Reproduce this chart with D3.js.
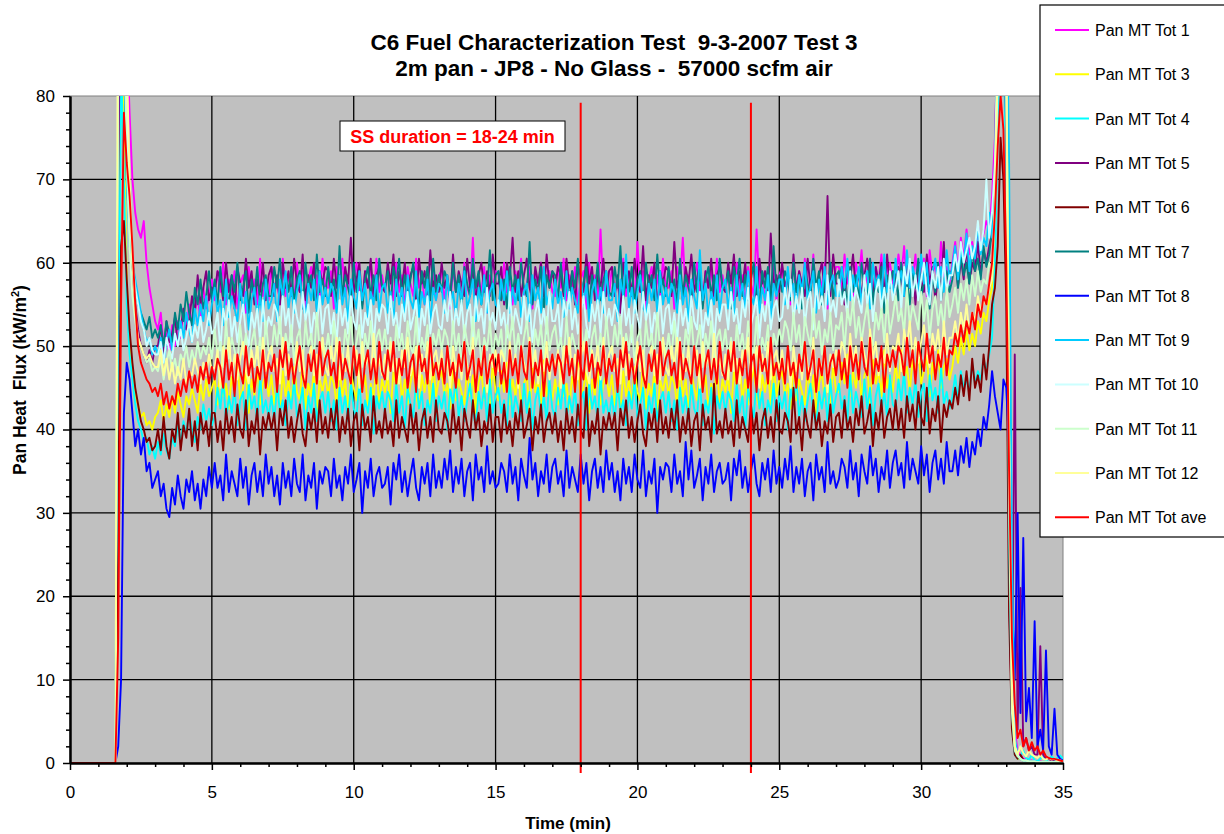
<!DOCTYPE html>
<html><head><meta charset="utf-8">
<script src="https://cdn.jsdelivr.net/npm/d3@7"></script>
<style>
body{margin:0;background:#fff;}
text{font-family:"Liberation Sans",Arial,Helvetica,sans-serif;}
</style>
</head><body>
<svg id="chart" width="1224" height="834"></svg>
<script>
// ---------------- DATA ----------------
const seriesNames = ["Pan MT Tot 1","Pan MT Tot 3","Pan MT Tot 4","Pan MT Tot 5","Pan MT Tot 6","Pan MT Tot 7",
                     "Pan MT Tot 8","Pan MT Tot 9","Pan MT Tot 10","Pan MT Tot 11","Pan MT Tot 12","Pan MT Tot ave"];
const seriesColors = ["#FF00FF","#FFFF00","#00FFFF","#800080","#800000","#008080",
                      "#0000FF","#00CCFF","#CCFFFF","#CCFFCC","#FFFF99","#FF0000"];
// samples: value at t=0 is 0, then one value every sampleStep minutes from sampleStart (1.6 ... 35.0 min)
const sampleStart = 1.6, sampleStep = 0.1;

const panTot1 = [
0, 60, 95, 100, 88,  78, 70, 66, 64, 63,  65, 60, 57, 55, 53,
52, 54, 50, 51.5, 49,  52.5, 50, 53, 51, 54.5,  52, 55, 52.5, 54, 56,  53, 57, 54.5, 56, 58,
55.5, 59, 56.5, 60, 55,  58, 56, 59, 54.5, 57.5,  58.5, 54, 59.5, 56.5, 58,  55, 60.5, 56, 57.5, 55.5,
59.5, 56.5, 58, 55, 60.5,  56, 58.5, 57, 55.5, 60,  56.5, 59, 54.5, 58, 59.5,  56, 58.5, 55.5, 60.5, 57,
57, 59, 54.5, 59.5, 57.5,  60.5, 56, 58.5, 55.5, 58,  60, 56.5, 55, 59, 57,  59.5, 55.5, 60.5, 56.5, 58.5,
56.5, 59, 58, 55.5, 60,  56.5, 58.5, 54.5, 59.5, 57.5,  56, 60.5, 57, 59, 55,  58, 56.5, 60, 55.5, 58.5,
59, 55.5, 58, 54.5, 59.5,  56.5, 58.5, 55.5, 60, 57,  56, 63, 55, 58, 56.5,  59.5, 54, 58.5, 57, 59,
58.5, 55.5, 60, 56.5, 58,  55, 59, 57, 60.5, 56,  57.5, 59.5, 54.5, 58.5, 56.5,  60, 55.5, 58, 59, 56.5,
56, 59.5, 57, 60.5, 55.5,  58.5, 56.5, 59.5, 55, 58,  59, 54.5, 60, 57, 58.5,  55.5, 64, 56.5, 58, 56,
59.5, 56.5, 58, 55, 60.5,  56, 58.5, 57, 55.5, 62.5,  56.5, 59, 54.5, 58, 59.5,  56, 58.5, 55.5, 60.5, 57,
57, 59, 54.5, 59.5, 57.5,  63, 56, 58.5, 55.5, 58,  60, 56.5, 55, 59, 57,  59.5, 55.5, 60.5, 56.5, 58.5,
56.5, 59, 58, 55.5, 60,  56.5, 58.5, 54.5, 59.5, 57.5,  56, 64, 57, 59, 55,  58, 56.5, 60, 55.5, 58.5,
59.5, 56, 58.5, 55, 60,  57, 59, 56, 60.5, 57.5,  56.5, 61, 55.5, 58.5, 57,  60, 54.5, 59, 57.5, 59.5,
59.5, 56.5, 61, 57.5, 59,  56, 60, 58, 61.5, 57,  58.5, 60.5, 55.5, 59.5, 57.5,  61, 56.5, 59, 60, 57.5,
57.5, 61, 58.5, 62, 57,  60, 58, 61, 56.5, 59.5,  60.5, 56, 61.5, 58.5, 60,  57, 62.5, 58, 59.5, 57.5,
60, 62.5, 59, 63, 60.5,  64, 61, 62.5, 60, 64.5,  62, 63.5, 65, 64, 68,  75, 88, 100, 95, 85,
35, 12, 4, 1.5, 1,  0.5, 0.5, 0.3, 0.3, 0.2,  0.2, 0.2, 0.1, 0.1, 0.1,  0.1, 0.1, 0.1, 0.1, 0.1];

const panTot3 = [
0, 45, 90, 75, 58,  50, 47, 44, 43, 41.5,  42, 40.5, 41, 40, 41.5,
42, 43.5, 41, 43, 41.5,  44, 42, 44.5, 43, 41.5,  44, 43, 45, 43.5, 42,  45.5, 43.5, 46, 44, 45,
46, 43, 47.5, 44, 45.5,  42.5, 46.5, 44.5, 48, 43.5,  45, 47, 42, 46, 44,  47.5, 43, 45.5, 46.5, 44,
46.5, 43, 45.5, 42, 47,  44, 46, 43, 47.5, 44.5,  43.5, 48, 42.5, 45.5, 44,  47, 41.5, 46, 44.5, 46.5,
44, 46.5, 45.5, 43, 47.5,  44, 46, 42, 47, 45,  43.5, 48, 44.5, 46.5, 42.5,  45.5, 44, 47.5, 43, 46,
44.5, 46.5, 42, 47, 45,  48, 43.5, 46, 43, 45.5,  47.5, 44, 42.5, 46.5, 44.5,  47, 43, 48, 44, 46,
47, 44, 45.5, 42.5, 48,  43.5, 46, 44.5, 43, 47.5,  44, 46.5, 42, 45.5, 47,  43.5, 46, 43, 48, 44.5,
43.5, 47, 44.5, 48, 43,  46, 44, 47, 42.5, 45.5,  46.5, 42, 47.5, 44.5, 46,  43, 48.5, 44, 45.5, 43.5,
46, 43, 47.5, 44, 45.5,  42.5, 46.5, 44.5, 48, 43.5,  45, 47, 42, 46, 44,  47.5, 43, 45.5, 46.5, 44,
46.5, 43, 45.5, 42, 47,  44, 46, 43, 47.5, 44.5,  43.5, 48, 42.5, 45.5, 44,  47, 41.5, 46, 44.5, 46.5,
44, 46.5, 45.5, 43, 47.5,  44, 46, 42, 47, 45,  43.5, 48, 44.5, 46.5, 42.5,  45.5, 44, 47.5, 43, 46,
44.5, 46.5, 42, 47, 45,  48, 43.5, 46, 43, 45.5,  47.5, 44, 42.5, 46.5, 44.5,  47, 43, 48, 44, 46,
47, 44, 45.5, 42.5, 48,  43.5, 46, 44.5, 43, 47.5,  44, 46.5, 42, 45.5, 47,  43.5, 46, 43, 48, 44.5,
44.5, 48, 45.5, 49, 44,  47, 45, 48, 43.5, 46.5,  47.5, 43, 48.5, 45.5, 47,  44, 49.5, 45, 46.5, 44.5,
48, 45, 49.5, 46, 47.5,  44.5, 48.5, 46.5, 50, 45.5,  47, 49, 44, 48, 46,  49.5, 45, 47.5, 48.5, 46,
47.5, 50, 48, 51, 49,  52, 49.5, 51.5, 50, 53,  51.5, 54, 53, 55.5, 57,  65, 80, 92, 90, 85,
62, 18, 3, 0.5, 0.5,  0.3, 0.3, 0.2, 0.2, 0.2,  0.1, 0.1, 0.1, 0.1, 0.1,  0.1, 0.1, 0.1, 0.1, 0.1];

const panTot4 = [
0, 40, 85, 70, 55,  49, 46, 43, 41, 40,  38.5, 39, 37, 38, 36.5,
38.5, 37, 39.5, 37.5, 36.5,  39, 38, 40.5, 38.5, 41,  39.5, 42, 40, 38.5, 41.5,  40, 43, 41, 42.5, 40.5,
41.5, 45, 42.5, 46, 41,  44, 42, 45, 40.5, 43.5,  44.5, 40, 45.5, 42.5, 44,  41, 46.5, 42, 43.5, 41.5,
44, 41, 45.5, 42, 43.5,  40.5, 44.5, 42.5, 46, 41.5,  43, 45, 40, 44, 42,  45.5, 41, 43.5, 44.5, 42,
44.5, 41, 43.5, 40, 45,  42, 44, 41, 45.5, 42.5,  41.5, 46, 40.5, 43.5, 42,  45, 39.5, 44, 42.5, 44.5,
42, 44.5, 43.5, 41, 45.5,  42, 44, 40, 45, 43,  41.5, 46, 42.5, 44.5, 40.5,  43.5, 42, 45.5, 41, 44,
42.5, 44.5, 40, 45, 43,  46, 41.5, 44, 41, 43.5,  45.5, 42, 40.5, 44.5, 42.5,  45, 41, 46, 42, 44,
45, 42, 43.5, 40.5, 46,  41.5, 44, 42.5, 41, 45.5,  42, 44.5, 40, 43.5, 45,  41.5, 44, 41, 46, 42.5,
41.5, 45, 42.5, 46, 41,  44, 42, 45, 40.5, 43.5,  44.5, 40, 45.5, 42.5, 44,  41, 46.5, 42, 43.5, 41.5,
44, 41, 45.5, 42, 43.5,  40.5, 44.5, 42.5, 46, 41.5,  43, 45, 40, 44, 42,  45.5, 41, 43.5, 44.5, 42,
44.5, 41, 43.5, 40, 45,  42, 44, 41, 45.5, 42.5,  41.5, 46, 40.5, 43.5, 42,  45, 39.5, 44, 42.5, 44.5,
42, 44.5, 43.5, 41, 45.5,  42, 44, 40, 45, 43,  41.5, 46, 42.5, 44.5, 40.5,  43.5, 42, 45.5, 41, 44,
42.5, 44.5, 40, 45, 43,  46, 41.5, 44, 41, 43.5,  45.5, 42, 40.5, 44.5, 42.5,  45, 41, 46, 42, 44,
45.5, 42.5, 44, 41, 46.5,  42, 44.5, 43, 41.5, 46,  42.5, 45, 40.5, 44, 45.5,  42, 44.5, 41.5, 46.5, 43,
42.5, 46, 43.5, 47, 42,  45, 43, 46, 41.5, 44.5,  45.5, 41, 46.5, 43.5, 45,  42, 47.5, 43, 44.5, 42.5,
44, 46.5, 43.5, 47, 45,  46, 44.5, 48, 45.5, 47,  46, 48.5, 47, 49, 51,  60, 75, 85, 88, 70,
25, 5, 1, 0.5, 0.8,  1.5, 0.6, 0.4, 1, 0.3,  0.2, 0.5, 0.8, 0.3, 0.5,  0.8, 0.4, 0.6, 0.9, 0.5];

const panTot5 = [
0, 70, 100, 90, 72,  63, 58, 55, 52, 50,  49, 48, 49.5, 48, 50,
50, 52.5, 49, 53, 50.5,  51.5, 53.5, 50, 52, 54.5,  52, 53, 56, 54, 58.5,  55, 57, 59, 55.5, 57,
56.5, 59, 58, 55.5, 60,  56.5, 58.5, 54.5, 59.5, 57.5,  56, 60.5, 57, 59, 55,  58, 56.5, 60, 55.5, 58.5,
59.5, 56, 58.5, 55, 60,  57, 59, 56, 60.5, 57.5,  56.5, 61, 55.5, 58.5, 57,  60, 54.5, 59, 57.5, 59.5,
59, 56, 60.5, 57, 58.5,  55.5, 59.5, 57.5, 63, 56.5,  58, 60, 55, 59, 57,  60.5, 56, 58.5, 59.5, 57,
56.5, 60, 57.5, 61, 56,  59, 57, 60, 55.5, 58.5,  59.5, 55, 60.5, 57.5, 59,  56, 61.5, 57, 58.5, 56.5,
60, 57, 58.5, 55.5, 61,  56.5, 59, 57.5, 56, 60.5,  57, 59.5, 55, 58.5, 60,  56.5, 59, 56, 61, 57.5,
57.5, 59.5, 55, 60, 58,  63, 56.5, 59, 56, 58.5,  60.5, 57, 55.5, 59.5, 57.5,  60, 56, 61, 57, 59,
57, 59.5, 58.5, 56, 60.5,  57, 59, 55, 60, 58,  56.5, 61, 57.5, 59.5, 55.5,  58.5, 57, 60.5, 56, 59,
59.5, 56, 58.5, 54, 60,  57, 59, 56, 60.5, 57.5,  56.5, 62, 55.5, 58.5, 57,  60, 54.5, 59, 57.5, 59.5,
59, 56, 62.5, 57, 58.5,  55.5, 59.5, 57.5, 61, 56.5,  58, 60, 55, 59, 57,  60.5, 56, 58.5, 59.5, 57,
56.5, 60, 57.5, 61, 56,  59, 57, 60, 55.5, 58.5,  59.5, 55, 60.5, 57.5, 59,  56, 63.5, 57, 58.5, 56.5,
60, 57, 58.5, 55.5, 61,  56.5, 59, 57.5, 56, 60.5,  57, 59.5, 55, 58.5, 60,  56.5, 68, 56, 61, 57.5,
57.5, 59.5, 55, 60, 58,  61, 56.5, 59, 56, 58.5,  60.5, 57, 55.5, 59.5, 57.5,  60, 56, 61, 57, 59,
57, 59.5, 58.5, 56, 60.5,  57, 59, 55, 60, 58,  56.5, 61, 57.5, 59.5, 55.5,  58.5, 57, 62.5, 56, 59,
58.5, 61, 57, 60.5, 58,  62, 57.5, 60, 59, 62.5,  58.5, 61.5, 60, 62, 63.5,  70, 85, 100, 95, 75,
20, 6, 49, 4, 21,  2, 3, 1.5, 2, 1,  1, 14, 1, 0.5, 0.5,  0.3, 0.2, 0.2, 0.1, 0.1];

const panTot6 = [
0, 30, 62, 65, 58,  52, 48, 45, 43, 41,  40, 38.5, 39, 37.5, 38,
40, 37.5, 41.5, 38, 36.5,  40, 38.5, 42, 37.5, 40.5,  39, 42.5, 38, 41, 37.5,  42, 39.5, 41, 38, 42,
42, 38.5, 41, 37.5, 42.5,  39.5, 41.5, 38.5, 43, 40,  39, 43.5, 38, 41, 39.5,  42.5, 37, 41.5, 40, 42,
40, 42, 37.5, 42.5, 40.5,  43.5, 39, 41.5, 38.5, 41,  43, 39.5, 38, 42, 40,  42.5, 38.5, 43.5, 39.5, 41.5,
39, 42.5, 40, 43.5, 38.5,  41.5, 39.5, 42.5, 38, 41,  42, 37.5, 43, 40, 41.5,  38.5, 44, 39.5, 41, 39,
42.5, 39.5, 41, 38, 43.5,  39, 41.5, 40, 38.5, 43,  39.5, 42, 37.5, 41, 42.5,  39, 41.5, 38.5, 43.5, 40,
39.5, 42, 41, 38.5, 43,  39.5, 41.5, 37.5, 42.5, 40.5,  39, 43.5, 40, 42, 38,  41, 39.5, 43, 38.5, 41.5,
41.5, 38.5, 43, 39.5, 41,  38, 42, 40, 43.5, 39,  40.5, 42.5, 37.5, 41.5, 39.5,  43, 38.5, 41, 42, 39.5,
42, 38.5, 41, 37.5, 42.5,  39.5, 41.5, 38.5, 43, 40,  39, 45, 38, 41, 39.5,  42.5, 37, 41.5, 40, 42,
40, 42, 37.5, 42.5, 40.5,  43.5, 39, 41.5, 38.5, 41,  43, 39.5, 38, 42, 40,  42.5, 38.5, 43.5, 39.5, 41.5,
39, 42.5, 40, 43.5, 38.5,  41.5, 39.5, 42.5, 38, 41,  42, 37.5, 43, 40, 41.5,  38.5, 45.5, 39.5, 41, 39,
42.5, 39.5, 41, 38, 43.5,  39, 41.5, 40, 38.5, 43,  39.5, 42, 37.5, 41, 42.5,  39, 41.5, 38.5, 43.5, 40,
39.5, 42, 41, 38.5, 45,  39.5, 41.5, 37.5, 42.5, 40.5,  39, 43.5, 40, 42, 38,  41, 39.5, 43, 38.5, 41.5,
42, 39, 43.5, 40, 41.5,  38.5, 42.5, 40.5, 44, 39.5,  41, 43, 38, 42, 40,  43.5, 39, 41.5, 42.5, 40,
43.5, 40, 42.5, 39, 44,  41, 43, 40, 44.5, 41.5,  40.5, 45, 39.5, 42.5, 41,  44, 38.5, 43, 41.5, 43.5,
42.5, 45, 43, 46.5, 44,  47, 43.5, 48.5, 45, 46.5,  44.5, 49, 46, 50, 55,  57, 62, 75, 70, 55,
18, 4, 1, 0.5, 1,  0.4, 0.3, 0.2, 0.2, 0.1,  0.1, 0.1, 0.1, 0.1, 0.1,  0.1, 0.1, 0.1, 0.1, 0.1];

const panTot7 = [
0, 85, 100, 85, 70,  64, 60, 57, 55, 54,  53, 52, 53.5, 51, 52,
51, 52.5, 50, 53, 51.5,  50.5, 54, 52, 55, 53,  56.5, 54, 52.5, 57, 55,  58, 54.5, 56, 59, 55.5,
58, 55, 59.5, 56, 57.5,  54.5, 58.5, 56.5, 60, 55.5,  57, 59, 54, 58, 56,  59.5, 55, 57.5, 58.5, 56,
56, 59.5, 57, 60.5, 55.5,  58.5, 56.5, 59.5, 55, 58,  59, 54.5, 60, 57, 58.5,  55.5, 61, 56.5, 58, 56,
59.5, 56.5, 58, 55, 62,  56, 58.5, 57, 55.5, 60,  56.5, 59, 54.5, 58, 59.5,  56, 58.5, 55.5, 60.5, 57,
57, 59, 54.5, 59.5, 57.5,  60.5, 56, 58.5, 55.5, 58,  60, 56.5, 55, 59, 57,  59.5, 55.5, 60.5, 56.5, 58.5,
56.5, 59, 58, 55.5, 60,  56.5, 58.5, 54.5, 59.5, 57.5,  56, 60.5, 57, 59, 55,  58, 56.5, 61.5, 55.5, 58.5,
59, 55.5, 58, 54.5, 59.5,  56.5, 58.5, 55.5, 60, 57,  56, 62.5, 55, 58, 56.5,  59.5, 54, 58.5, 57, 59,
58.5, 55.5, 60, 56.5, 58,  55, 59, 57, 60.5, 56,  57.5, 59.5, 54.5, 58.5, 56.5,  60, 55.5, 58, 59, 56.5,
56, 59.5, 57, 62, 55.5,  58.5, 56.5, 59.5, 55, 58,  59, 54.5, 60, 57, 58.5,  55.5, 61, 56.5, 58, 56,
59.5, 56.5, 58, 55, 60.5,  56, 58.5, 57, 55.5, 60,  56.5, 59, 54.5, 58, 59.5,  56, 58.5, 55.5, 60.5, 57,
57, 59, 54.5, 59.5, 57.5,  60.5, 56, 58.5, 55.5, 58,  60, 56.5, 55, 59, 57,  59.5, 55.5, 62, 56.5, 58.5,
56.5, 59, 58, 55.5, 60,  56.5, 58.5, 54.5, 59.5, 57.5,  56, 60.5, 57, 59, 55,  58, 56.5, 60, 55.5, 58.5,
59, 55.5, 58, 54.5, 59.5,  56.5, 58.5, 55.5, 60, 57,  56, 60.5, 55, 58, 56.5,  59.5, 54, 58.5, 57, 59,
58.5, 55.5, 60, 56.5, 58,  55, 59, 57, 60.5, 56,  57.5, 59.5, 54.5, 58.5, 56.5,  60, 55.5, 58, 59, 56.5,
58, 60.5, 57, 61, 58.5,  60, 57.5, 61.5, 59, 60.5,  58, 62, 59.5, 61, 64,  72, 92, 100, 100, 80,
25, 6, 1.5, 0.8, 0.5,  0.3, 0.3, 0.2, 0.2, 0.2,  0.1, 0.1, 0.1, 0.1, 0.1,  0.1, 0.1, 0.1, 0.1, 0.1];

const panTot8 = [
0, 2, 10, 42, 48,  46, 42, 38, 40, 37,  39, 35, 36, 33, 34,
35, 32, 33.5, 30.5, 29.5,  33, 31, 34.5, 32, 30.5,  34, 32.5, 35, 31.5, 33.5,  30.5, 34, 32, 35.5, 33,
36, 33, 34.5, 31.5, 37,  32.5, 35, 33.5, 32, 36.5,  33, 35.5, 31, 34.5, 36,  32.5, 35, 32, 37, 33.5,
35.5, 32, 34.5, 31, 36,  33, 35, 32, 36.5, 33.5,  32.5, 37, 31.5, 34.5, 33,  36, 30.5, 35, 33.5, 35.5,
35, 32, 36.5, 33, 34.5,  31.5, 35.5, 33.5, 37, 32.5,  34, 36, 30, 35, 33,  36.5, 32, 34.5, 35.5, 33,
33.5, 35.5, 31, 36, 34,  37, 32.5, 35, 32, 34.5,  36.5, 33, 31.5, 35.5, 33.5,  36, 32, 37, 33, 35,
33, 36.5, 34, 37.5, 32.5,  35.5, 33.5, 36.5, 32, 35,  36, 31.5, 37, 34, 35.5,  32.5, 38, 33.5, 35, 33,
33.5, 36, 35, 32.5, 37,  33.5, 35.5, 31.5, 36.5, 34.5,  33, 39, 34, 36, 32,  35, 33.5, 37, 32.5, 35.5,
36.5, 33.5, 35, 32, 37.5,  33, 35.5, 34, 32.5, 37,  33.5, 36, 31.5, 35, 36.5,  33, 35.5, 32.5, 37.5, 34,
36, 32.5, 35, 31.5, 36.5,  33.5, 35.5, 32.5, 37, 34,  33, 37.5, 32, 35, 33.5,  36.5, 30, 35.5, 34, 36,
35.5, 32.5, 37, 33.5, 35,  32, 38.5, 34, 37.5, 33,  34.5, 36.5, 31.5, 35.5, 33.5,  37, 32.5, 35, 36, 33.5,
34, 36, 31.5, 36.5, 34.5,  37.5, 33, 35.5, 32.5, 35,  37, 33.5, 32, 36, 34,  36.5, 32.5, 37.5, 33.5, 35.5,
33, 36.5, 34, 38, 32.5,  35.5, 33.5, 36.5, 32, 35,  36, 31.5, 37, 34, 35.5,  32.5, 38.5, 33.5, 35, 33,
34, 36.5, 35.5, 33, 37.5,  34, 36, 32, 37, 35,  33.5, 38, 34.5, 36.5, 32.5,  35.5, 34, 37.5, 33, 36,
37.5, 34.5, 36, 33, 38.5,  34, 36.5, 35, 33.5, 38,  34.5, 37, 32.5, 36, 37.5,  34, 36.5, 33.5, 38.5, 35,
35, 37.5, 34.5, 38, 36,  39, 35.5, 38.5, 37, 40,  38, 41.5, 40, 43, 47,  44, 42, 40, 46, 45,
38, 20, 10, 30, 6,  27, 5, 9, 3, 17,  2, 4, 1.5, 13.5, 2,  1, 6.5, 1, 0.5, 0.3];

const panTot9 = [
0, 80, 100, 90, 70,  62, 60, 58, 56, 54,  52, 50.5, 51, 49, 50,
49, 51, 48, 50.5, 52,  49.5, 51.5, 50, 53, 51,  54, 52, 50.5, 54.5, 52.5,  55, 53, 56, 52.5, 55,
57, 54, 55.5, 52.5, 58,  53.5, 56, 54.5, 53, 57.5,  54, 56.5, 52, 55.5, 57,  53.5, 56, 53, 58, 54.5,
55.5, 57.5, 53, 58, 56,  59, 54.5, 57, 54, 56.5,  58.5, 55, 53.5, 57.5, 55.5,  58, 54, 59, 55, 57,
55, 57.5, 56.5, 54, 58.5,  55, 57, 53, 58, 56,  54.5, 59, 55.5, 57.5, 53.5,  56.5, 55, 58.5, 54, 57,
57.5, 54, 56.5, 53, 58,  55, 57, 54, 58.5, 55.5,  54.5, 59, 53.5, 56.5, 55,  58, 52.5, 57, 55.5, 57.5,
57, 54, 58.5, 55, 56.5,  53.5, 57.5, 55.5, 59, 54.5,  56, 58, 53, 57, 55,  58.5, 54, 56.5, 57.5, 55,
54.5, 58, 55.5, 59, 54,  57, 55, 58, 53.5, 56.5,  57.5, 53, 58.5, 55.5, 57,  54, 59.5, 55, 56.5, 54.5,
58, 55, 56.5, 53.5, 59,  54.5, 57, 55.5, 54, 58.5,  55, 57.5, 53, 56.5, 58,  54.5, 57, 54, 59, 55.5,
55.5, 57.5, 53, 58, 56,  61, 54.5, 57, 54, 56.5,  58.5, 55, 53.5, 57.5, 55.5,  58, 54, 59, 55, 57,
55, 57.5, 56.5, 54, 58.5,  55, 57, 53, 58, 56,  54.5, 61.5, 55.5, 57.5, 53.5,  56.5, 55, 58.5, 54, 57,
58, 54.5, 57, 53.5, 58.5,  55.5, 57.5, 54.5, 59, 56,  55, 59.5, 54, 57, 55.5,  58.5, 53, 57.5, 56, 58,
58, 55, 59.5, 56, 57.5,  54.5, 58.5, 56.5, 60, 55.5,  57, 59, 54, 58, 56,  59.5, 55, 57.5, 58.5, 56,
56, 59.5, 57, 60.5, 55.5,  58.5, 56.5, 59.5, 55, 58,  59, 54.5, 60, 57, 58.5,  55.5, 61, 56.5, 58, 56,
60.5, 57.5, 59, 56, 61.5,  57, 59.5, 58, 56.5, 61,  57.5, 60, 55.5, 59, 60.5,  57, 59.5, 56.5, 61.5, 58,
59.5, 62, 58, 61.5, 60,  63.5, 59, 62, 60.5, 64.5,  61, 63, 62, 66, 63,  68, 80, 95, 98, 96,
72, 25, 3, 1, 0.5,  0.3, 0.3, 0.2, 0.2, 0.2,  0.1, 0.1, 0.1, 0.1, 0.1,  0.1, 0.1, 0.1, 0.1, 0.1];

const panTot10 = [
0, 90, 100, 95, 78,  66, 60, 57, 55, 53,  52, 50, 51, 49.5, 49,
49, 50.5, 48, 51, 49.5,  48.5, 51.5, 50, 52, 49.5,  51, 53, 50.5, 52.5, 51,  53.5, 50.5, 52, 54, 51.5,
52, 54, 49.5, 54.5, 52.5,  55.5, 51, 53.5, 50.5, 53,  55, 51.5, 50, 54, 52,  54.5, 50.5, 55.5, 51.5, 53.5,
52.5, 55, 54, 51.5, 56,  52.5, 54.5, 50.5, 55.5, 53.5,  52, 56.5, 53, 55, 51,  54, 52.5, 56, 51.5, 54.5,
55, 51.5, 54, 50.5, 55.5,  52.5, 54.5, 51.5, 56, 53,  52, 56.5, 51, 54, 52.5,  55.5, 50, 54.5, 53, 55,
54.5, 51.5, 56, 52.5, 54,  51, 55, 53, 56.5, 52,  53.5, 55.5, 50.5, 54.5, 52.5,  56, 51.5, 54, 55, 52.5,
52, 55.5, 53, 56.5, 51.5,  54.5, 52.5, 55.5, 51, 54,  55, 50.5, 56, 53, 54.5,  51.5, 57, 52.5, 54, 52,
55.5, 52.5, 54, 51, 56.5,  52, 54.5, 53, 51.5, 56,  52.5, 55, 50.5, 54, 55.5,  52, 54.5, 51.5, 56.5, 53,
53, 55, 50.5, 55.5, 53.5,  56.5, 52, 54.5, 51.5, 54,  56, 52.5, 51, 55, 53,  55.5, 51.5, 56.5, 52.5, 54.5,
52.5, 55, 54, 51.5, 56,  52.5, 54.5, 50.5, 55.5, 53.5,  52, 56.5, 53, 55, 51,  54, 52.5, 56, 51.5, 54.5,
55, 51.5, 54, 50.5, 55.5,  52.5, 54.5, 51.5, 56, 53,  52, 56.5, 51, 54, 52.5,  55.5, 50, 54.5, 53, 55,
55, 52, 56.5, 53, 54.5,  51.5, 55.5, 53.5, 57, 52.5,  54, 56, 51, 55, 53,  56.5, 52, 54.5, 55.5, 53,
53.5, 57, 54.5, 58, 53,  56, 54, 57, 52.5, 55.5,  56.5, 52, 57.5, 54.5, 56,  53, 58.5, 54, 55.5, 53.5,
58, 55, 56.5, 53.5, 59,  54.5, 57, 55.5, 54, 58.5,  55, 57.5, 53, 56.5, 58,  54.5, 57, 54, 59, 55.5,
57, 59, 54.5, 59.5, 57.5,  60.5, 56, 58.5, 55.5, 58,  60, 56.5, 55, 59, 57,  59.5, 55.5, 60.5, 56.5, 58.5,
58.5, 61, 59, 62.5, 60,  61.5, 63, 60.5, 62, 65,  61.5, 64, 70, 63, 66,  72, 88, 100, 98, 85,
40, 10, 2, 1, 0.5,  0.3, 0.3, 0.2, 0.2, 0.2,  0.1, 0.1, 0.1, 0.1, 0.1,  0.1, 0.1, 0.1, 0.1, 0.1];

const panTot11 = [
0, 100, 100, 90, 72,  62, 56, 53, 51, 50,  49, 48, 48.5, 47, 47.5,
47, 48.5, 46, 48, 49.5,  47, 48.5, 46.5, 49, 48,  50, 47.5, 49.5, 48, 50.5,  48.5, 50, 49, 51, 48.5,
52, 49, 50.5, 47.5, 53,  48.5, 51, 49.5, 48, 52.5,  49, 51.5, 47, 50.5, 52,  48.5, 51, 48, 53, 49.5,
49, 52.5, 50, 53.5, 48.5,  51.5, 49.5, 52.5, 48, 51,  52, 47.5, 53, 50, 51.5,  48.5, 54, 49.5, 51, 49,
51.5, 48.5, 53, 49.5, 51,  48, 52, 50, 53.5, 49,  50.5, 52.5, 47.5, 51.5, 49.5,  53, 48.5, 51, 52, 49.5,
52, 48.5, 51, 47.5, 52.5,  49.5, 51.5, 48.5, 53, 50,  49, 53.5, 48, 51, 49.5,  52.5, 47, 51.5, 50, 52,
49.5, 52, 51, 48.5, 53,  49.5, 51.5, 47.5, 52.5, 50.5,  49, 53.5, 50, 52, 48,  51, 49.5, 53, 48.5, 51.5,
50, 52, 47.5, 52.5, 50.5,  53.5, 49, 51.5, 48.5, 51,  53, 49.5, 48, 52, 50,  52.5, 48.5, 53.5, 49.5, 51.5,
52.5, 49.5, 51, 48, 53.5,  49, 51.5, 50, 48.5, 53,  49.5, 52, 47.5, 51, 52.5,  49, 51.5, 48.5, 53.5, 50,
49, 52.5, 50, 53.5, 48.5,  51.5, 49.5, 52.5, 48, 51,  52, 47.5, 53, 50, 51.5,  48.5, 54, 49.5, 51, 49,
51.5, 48.5, 53, 49.5, 51,  48, 52, 50, 53.5, 49,  50.5, 52.5, 47.5, 51.5, 49.5,  53, 48.5, 51, 52, 49.5,
52, 48.5, 51, 47.5, 52.5,  49.5, 51.5, 48.5, 53, 50,  49, 53.5, 48, 51, 49.5,  52.5, 47, 51.5, 50, 52,
50.5, 53, 52, 49.5, 54,  50.5, 52.5, 48.5, 53.5, 51.5,  50, 54.5, 51, 53, 49,  52, 50.5, 54, 49.5, 52.5,
52, 54, 49.5, 54.5, 52.5,  55.5, 51, 53.5, 50.5, 53,  55, 51.5, 50, 54, 52,  54.5, 50.5, 55.5, 51.5, 53.5,
56, 53, 54.5, 51.5, 57,  52.5, 55, 53.5, 52, 56.5,  53, 55.5, 51, 54.5, 56,  52.5, 55, 52, 57, 53.5,
55, 57, 54, 57.5, 55.5,  58, 55, 58.5, 56, 59,  56.5, 58, 57.5, 60, 59,  66, 82, 98, 96, 80,
30, 6, 1.5, 0.8, 0.5,  0.3, 0.3, 0.2, 0.2, 0.2,  0.1, 0.1, 0.1, 0.1, 0.1,  0.1, 0.1, 0.1, 0.1, 0.1];

const panTot12 = [
0, 100, 100, 100, 85,  70, 60, 54, 51, 50,  49, 48.5, 49, 48, 47.5,
47.5, 49.5, 46.5, 48.5, 46,  48, 45.5, 47.5, 46, 48.5,  45.5, 47, 46.5, 48.5, 47,  45.5, 48, 46.5, 49, 47,
47.5, 49.5, 45, 50, 48,  51, 46.5, 49, 46, 48.5,  50.5, 47, 45.5, 49.5, 47.5,  50, 46, 51, 47, 49,
50, 47, 48.5, 45.5, 51,  46.5, 49, 47.5, 46, 50.5,  47, 49.5, 45, 48.5, 50,  46.5, 49, 46, 51, 47.5,
46.5, 50, 47.5, 51, 46,  49, 47, 50, 45.5, 48.5,  49.5, 45, 50.5, 47.5, 49,  46, 51.5, 47, 48.5, 46.5,
49, 46, 50.5, 47, 48.5,  45.5, 49.5, 47.5, 51, 46.5,  48, 50, 45, 49, 47,  50.5, 46, 48.5, 49.5, 47,
49.5, 46, 48.5, 45, 50,  47, 49, 46, 50.5, 47.5,  46.5, 51, 45.5, 48.5, 47,  50, 44.5, 49, 47.5, 49.5,
47, 49.5, 48.5, 46, 50.5,  47, 49, 45, 50, 48,  46.5, 51, 47.5, 49.5, 45.5,  48.5, 47, 50.5, 46, 49,
47.5, 49.5, 45, 50, 48,  51, 46.5, 49, 46, 48.5,  50.5, 47, 45.5, 49.5, 47.5,  50, 46, 51, 47, 49,
50, 47, 48.5, 45.5, 51,  46.5, 49, 47.5, 46, 50.5,  47, 49.5, 45, 48.5, 50,  46.5, 49, 46, 51, 47.5,
46.5, 50, 47.5, 51, 46,  49, 47, 50, 45.5, 48.5,  49.5, 45, 50.5, 47.5, 49,  46, 51.5, 47, 48.5, 46.5,
49, 46, 50.5, 47, 48.5,  45.5, 49.5, 47.5, 51, 46.5,  48, 50, 45, 49, 47,  50.5, 46, 48.5, 49.5, 47,
49.5, 46, 48.5, 45, 50,  47, 49, 46, 50.5, 47.5,  46.5, 51, 45.5, 48.5, 47,  50, 44.5, 49, 47.5, 49.5,
48, 50.5, 49.5, 47, 51.5,  48, 50, 46, 51, 49,  47.5, 52, 48.5, 50.5, 46.5,  49.5, 48, 51.5, 47, 50,
49.5, 51.5, 47, 52, 50,  53, 48.5, 51, 48, 50.5,  52.5, 49, 47.5, 51.5, 49.5,  52, 48, 53, 49, 51,
51, 53, 50.5, 54, 52,  55, 51.5, 54, 53, 56,  54, 55.5, 55, 57, 58,  68, 85, 100, 100, 88,
40, 8, 2, 1, 2,  1.2, 0.8, 1.5, 1, 0.8,  0.6, 1, 0.5, 0.4, 0.6,  0.4, 0.5, 0.3, 0.3, 0.2];

const panTotAve = [
0, 15, 55, 78, 72,  68, 62, 55, 50, 48,  47, 46, 45.5, 44.5, 45,
44, 45.5, 43, 44.5, 42.5,  44, 43, 45.5, 44, 46,  44.5, 47, 45, 46.5, 44.5,  47.5, 46, 48, 45.5, 47.5,
46, 48.5, 47.5, 45, 49.5,  46, 48, 44, 49, 47,  45.5, 50, 46.5, 48.5, 44.5,  47.5, 46, 49.5, 45, 48,
47, 49, 44.5, 49.5, 47.5,  50.5, 46, 48.5, 45.5, 48,  50, 46.5, 45, 49, 47,  49.5, 45.5, 50.5, 46.5, 48.5,
49.5, 46.5, 48, 45, 50.5,  46, 48.5, 47, 45.5, 50,  46.5, 49, 44.5, 48, 49.5,  46, 48.5, 45.5, 50.5, 47,
46, 49.5, 47, 50.5, 45.5,  48.5, 46.5, 49.5, 45, 48,  49, 44.5, 50, 47, 48.5,  45.5, 51, 46.5, 48, 46,
48.5, 45.5, 50, 46.5, 48,  45, 49, 47, 50.5, 46,  47.5, 49.5, 44.5, 48.5, 46.5,  50, 45.5, 48, 49, 46.5,
49, 45.5, 48, 44.5, 49.5,  46.5, 48.5, 45.5, 50, 47,  46, 50.5, 45, 48, 46.5,  49.5, 44, 48.5, 47, 49,
46.5, 49, 48, 45.5, 50,  46.5, 48.5, 44.5, 49.5, 47.5,  46, 50.5, 47, 49, 45,  48, 46.5, 50, 45.5, 48.5,
47, 49, 44.5, 49.5, 47.5,  50.5, 46, 48.5, 45.5, 48,  50, 46.5, 45, 49, 47,  49.5, 45.5, 50.5, 46.5, 48.5,
49.5, 46.5, 48, 45, 50.5,  46, 48.5, 47, 45.5, 50,  46.5, 49, 44.5, 48, 49.5,  46, 48.5, 45.5, 50.5, 47,
46, 49.5, 47, 50.5, 45.5,  48.5, 46.5, 49.5, 45, 48,  49, 44.5, 50, 47, 48.5,  45.5, 51, 46.5, 48, 46,
48.5, 45.5, 50, 46.5, 48,  45, 49, 47, 50.5, 46,  47.5, 49.5, 44.5, 48.5, 46.5,  50, 45.5, 48, 49, 46.5,
49.5, 46, 48.5, 45, 50,  47, 49, 46, 50.5, 47.5,  46.5, 51, 45.5, 48.5, 47,  50, 44.5, 49, 47.5, 49.5,
47.5, 50, 49, 46.5, 51,  47.5, 49.5, 45.5, 50.5, 48.5,  47, 51.5, 48, 50, 46,  49, 47.5, 51, 46.5, 49.5,
49, 51.5, 50, 52.5, 50.5,  53, 51.5, 54, 52, 55,  53.5, 56, 55, 57.5, 60,  66, 74, 80, 76, 60,
35, 15, 7, 3, 4,  2, 3, 1.5, 2.5, 1.5,  2, 1, 1.5, 0.8, 0.6,  0.5, 0.5, 0.4, 0.3, 0.2];

const seriesValues = [panTot1, panTot3, panTot4, panTot5, panTot6, panTot7,
                      panTot8, panTot9, panTot10, panTot11, panTot12, panTotAve];

const xTickValues = [0, 5, 10, 15, 20, 25, 30, 35];
const yTickValues = [0, 10, 20, 30, 40, 50, 60, 70, 80];
const xMinorTicks = [1,2,3,4,6,7,8,9,11,12,13,14,16,17,18,19,21,22,23,24,26,27,28,29,31,32,33,34];
const yMinorTicks = [2,4,6,8,12,14,16,18,22,24,26,28,32,34,36,38,42,44,46,48,52,54,56,58,62,64,66,68,72,74,76,78];
const ssBounds = [18, 24];
const titleLines = ["C6 Fuel Characterization Test  9-3-2007 Test 3", "2m pan - JP8 - No Glass -  57000 scfm air"];
const annotationText = "SS duration = 18-24 min";
const xAxisTitle = "Time (min)";

// ---------------- CHART ----------------
const svg = d3.select("#chart");
const P = {left: 70, right: 1063, top: 96, bottom: 763};
const x = d3.scaleLinear().domain([0, 35]).range([P.left, P.right]);
const y = d3.scaleLinear().domain([0, 80]).range([P.bottom, P.top]);

svg.append("rect").attr("width", 1224).attr("height", 834).attr("fill", "#fff");

svg.append("defs").append("clipPath").attr("id", "clip")
  .append("rect").attr("x", P.left).attr("y", P.top)
  .attr("width", P.right - P.left).attr("height", P.bottom - P.top);

svg.append("rect").attr("x", P.left).attr("y", P.top)
  .attr("width", P.right - P.left).attr("height", P.bottom - P.top)
  .attr("fill", "#C0C0C0").attr("stroke", "#808080").attr("stroke-width", 1);

// gridlines
const grid = svg.append("g");
grid.selectAll("line.h").data(yTickValues.filter(d => d > 0 && d < 80)).join("line")
  .attr("x1", P.left).attr("x2", P.right).attr("y1", d => y(d)).attr("y2", d => y(d))
  .attr("stroke", "#000").attr("stroke-width", 1.3);
grid.selectAll("line.v").data(xTickValues.filter(d => d > 0 && d < 35)).join("line")
  .attr("y1", P.top).attr("y2", P.bottom).attr("x1", d => x(d)).attr("x2", d => x(d))
  .attr("stroke", "#000").attr("stroke-width", 1.3);

// series
const line = d3.line().x(d => x(d[0])).y(d => y(d[1]));
const gSeries = svg.append("g").attr("clip-path", "url(#clip)");
seriesValues.forEach((vals, k) => {
  const pts = [[0, 0]].concat(vals.map((v, i) => [sampleStart + i * sampleStep, v]));
  gSeries.append("path").datum(pts).attr("d", line)
    .attr("fill", "none").attr("stroke", seriesColors[k])
    .attr("stroke-width", 1.9).attr("stroke-linejoin", "round");
});

// steady-state boundaries
svg.selectAll("line.ss").data(ssBounds).join("line")
  .attr("x1", d => x(d)).attr("x2", d => x(d))
  .attr("y1", y(79.2)).attr("y2", y(-1.2))
  .attr("stroke", "#FF0000").attr("stroke-width", 2);

// axes
const fontTick = 17;
const yAxis = svg.append("g").attr("transform", `translate(${P.left},0)`)
  .call(d3.axisLeft(y).tickValues(yTickValues).tickSize(7).tickSizeOuter(0).tickPadding(8).tickFormat(d3.format("d")));
const yMinor = svg.append("g").attr("transform", `translate(${P.left},0)`)
  .call(d3.axisLeft(y).tickValues(yMinorTicks).tickSize(4).tickSizeOuter(0).tickFormat(""));
const xAxis = svg.append("g").attr("transform", `translate(0,${P.bottom})`)
  .call(d3.axisBottom(x).tickValues(xTickValues).tickSize(7).tickSizeOuter(0).tickPadding(16).tickFormat(d3.format("d")));
const xMinor = svg.append("g").attr("transform", `translate(0,${P.bottom})`)
  .call(d3.axisBottom(x).tickValues(xMinorTicks).tickSize(4).tickSizeOuter(0).tickFormat(""));
[yAxis, yMinor, xAxis, xMinor].forEach(g => {
  g.selectAll("path.domain").attr("stroke", "#000").attr("stroke-width", 2);
  g.selectAll(".tick line").attr("stroke", "#000").attr("stroke-width", 1.5);
  g.selectAll("text").attr("font-size", fontTick).attr("fill", "#000")
    .attr("font-family", '"Liberation Sans",Arial,sans-serif');
});

// titles
svg.selectAll("text.title").data(titleLines).join("text")
  .attr("x", 614).attr("y", (d, i) => 50 + i * 26)
  .attr("text-anchor", "middle").attr("font-weight", "bold").attr("font-size", 22.5)
  .style("white-space", "pre").text(d => d);

svg.append("text").attr("x", 568).attr("y", 829).attr("text-anchor", "middle")
  .attr("font-weight", "bold").attr("font-size", 17).text(xAxisTitle);

const yl = svg.append("text").attr("transform", "translate(26,380) rotate(-90)")
  .attr("text-anchor", "middle").attr("font-weight", "bold").attr("font-size", 17.5)
  .style("white-space", "pre");
yl.append("tspan").text("Pan Heat  Flux (kW/m");
yl.append("tspan").attr("font-size", 11).attr("dy", -7).text("2");
yl.append("tspan").attr("dy", 7).text(")");

// annotation box
svg.append("rect").attr("x", 340).attr("y", 121).attr("width", 225).attr("height", 30)
  .attr("fill", "#fff").attr("stroke", "#000").attr("stroke-width", 1);
svg.append("text").attr("x", 452.5).attr("y", 142.5).attr("text-anchor", "middle")
  .attr("font-weight", "bold").attr("font-size", 18).attr("fill", "#FF0000")
  .style("white-space", "pre").text(annotationText);

// legend
const lg = svg.append("g");
lg.append("rect").attr("x", 1040).attr("y", 5).attr("width", 200).attr("height", 532)
  .attr("fill", "#fff").attr("stroke", "#000").attr("stroke-width", 1.2);
seriesNames.forEach((name, k) => {
  const cy = 30 + k * 44.3;
  lg.append("line").attr("x1", 1055).attr("x2", 1089).attr("y1", cy).attr("y2", cy)
    .attr("stroke", seriesColors[k]).attr("stroke-width", 2);
  lg.append("text").attr("x", 1095).attr("y", cy + 6).attr("font-size", 16).attr("fill", "#000").text(name);
});
</script>
</body></html>
